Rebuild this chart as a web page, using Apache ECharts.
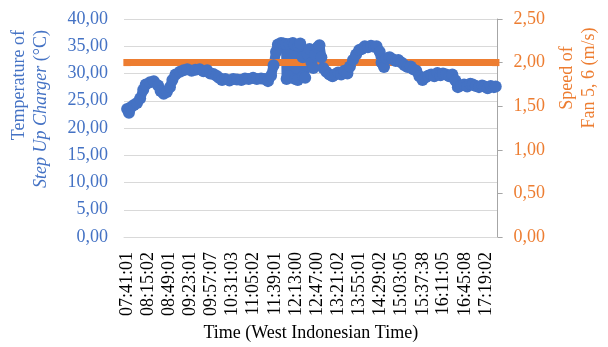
<!DOCTYPE html>
<html>
<head>
<meta charset="utf-8">
<script src="https://cdn.jsdelivr.net/npm/echarts@6/dist/echarts.min.js"></script>
<style>html,body{margin:0;padding:0;background:#fff;}#c{width:608px;height:347px;}</style>
</head>
<body>
<div id="c"></div>
<script>
// ---- data ----
const xTickLabels = ['07:41:01','08:15:02','08:49:01','09:23:01','09:57:07','10:31:03','11:05:02','11:39:01','12:13:00','12:47:00','13:21:02','13:55:01','14:29:02','15:03:05','15:37:38','16:11:05','16:45:08','17:19:02'];
const tempTimes = ['07:41','07:44','07:47','07:52','07:57','08:02','08:07','08:11','08:18','08:24','08:31','08:35','08:40','08:45','08:50','08:54','08:59','09:06','09:12','09:18','09:25','09:31','09:38','09:44','09:50','09:55','10:00','10:05','10:09','10:14','10:19','10:26','10:32','10:38','10:45','10:51','10:57','11:04','11:10','11:17','11:23','11:28','11:33','11:37','11:41','11:44','11:49','11:53','11:57','11:58','12:01','12:03','12:08','12:11','12:12','12:16','12:17','12:20','12:24','12:25','12:28','12:32','12:35','12:38','12:41','12:44','12:48','12:51','12:54','12:57','13:02','13:07','13:12','13:16','13:21','13:26','13:31','13:36','13:40','13:45','13:50','13:55','13:59','14:04','14:09','14:14','14:19','14:23','14:28','14:31','14:35','14:39','14:44','14:49','14:54','14:58','15:03','15:08','15:13','15:18','15:22','15:27','15:32','15:37','15:42','15:46','15:51','15:56','16:01','16:06','16:10','16:15','16:20','16:25','16:30','16:34','16:39','16:44','16:49','16:54','16:58','17:03','17:08','17:13','17:17','17:22','17:27','17:32','17:35'];
const tempValues = [23.5,22.8,23.8,24.2,24.6,25.4,27.0,28.0,28.4,28.6,27.8,26.8,26.3,26.6,27.5,28.8,29.8,30.3,30.6,30.8,30.5,30.7,30.8,30.4,30.6,30.0,29.9,29.6,29.2,28.8,29.0,28.7,29.0,28.9,28.8,29.1,29.0,29.2,29.0,29.1,29.0,28.6,29.6,31.5,34.0,35.3,35.6,35.5,35.4,29.0,29.5,35.4,35.6,35.3,29.0,28.8,35.0,35.5,33.0,29.5,29.2,33.5,34.5,32.0,31.0,33.5,34.8,35.2,33.0,31.0,30.3,29.8,29.5,29.8,30.2,29.8,30.5,30.0,31.3,32.5,33.5,34.3,34.5,35.0,34.8,35.1,34.9,35.0,34.0,32.0,31.2,32.8,33.0,32.6,32.3,32.5,32.0,31.5,31.2,31.3,30.8,30.5,29.5,28.8,29.3,29.6,29.8,29.5,30.1,29.7,30.0,29.8,29.5,29.8,28.7,27.5,27.8,28.0,27.6,28.1,28.0,27.7,27.5,27.8,27.6,27.3,27.7,27.5,27.6];
const fanTimes = ['07:41','17:35'];
const fanSpeed = [2.0, 2.0];

// ---- helpers ----
function toMin(s){ const p = s.split(':').map(Number); return p[0]*60 + p[1] + (p[2]||0)/60 - (7*60 + 41); }
const tickPos = xTickLabels.map(toMin);
const tempData = tempTimes.map((t,i)=>[toMin(t), tempValues[i]]);
const fanData = fanTimes.map((t,i)=>[toMin(t), fanSpeed[i]]);
const comma = v => v.toFixed(2).replace('.', ',');
const FONT = '"Liberation Serif", "Times New Roman", serif';
const BLUE = '#4472C4', ORANGE = '#ED7D31';

const chart = echarts.init(document.getElementById('c'));
chart.setOption({
  animation: false,
  grid: {left: 122, right: 108, top: 19, bottom: 110},
  xAxis: {
    type: 'value', min: -5, max: 597,
    name: 'Time (West Indonesian Time)', nameLocation: 'middle', nameGap: 84,
    nameTextStyle: {fontFamily: FONT, fontSize: 18, color: '#000'},
    axisLine: {show: true, lineStyle: {color: '#D9D9D9', width: 1}},
    axisTick: {show: false},
    splitLine: {show: false},
    axisLabel: {
      customValues: tickPos, rotate: 90, margin: 15,
      fontFamily: FONT, fontSize: 18, color: '#000',
      formatter: v => { let k = tickPos.findIndex(p => Math.abs(p - v) < 0.01); return k >= 0 ? xTickLabels[k] : ''; }
    }
  },
  yAxis: [{
    type: 'value', min: 0, max: 40, interval: 5, position: 'left',
    name: '{a|Temperature of}\n{b|Step Up Charger}{c| (°C)}',
    nameLocation: 'middle', nameGap: 72, nameRotate: 90,
    nameTextStyle: {
      padding: [0,0,0,38], lineHeight: 22,
      rich: {
        a: {fontFamily: FONT, fontSize: 18, color: BLUE, align: 'right', lineHeight: 22},
        b: {fontFamily: FONT, fontSize: 18, color: BLUE, fontStyle: 'italic', align: 'right', lineHeight: 22},
        c: {fontFamily: FONT, fontSize: 18, color: BLUE, align: 'right', lineHeight: 22}
      }
    },
    axisLine: {show: false}, axisTick: {show: false},
    splitLine: {show: true, lineStyle: {color: '#D9D9D9', width: 1}},
    axisLabel: {fontFamily: FONT, fontSize: 18, color: BLUE, margin: 16, formatter: comma}
  }, {
    type: 'value', min: 0, max: 2.5, interval: 0.5, position: 'right',
    name: 'Speed of\nFan 5, 6 (m/s)',
    nameLocation: 'middle', nameGap: 54, nameRotate: 90,
    nameTextStyle: {fontFamily: FONT, fontSize: 18, color: ORANGE, lineHeight: 22, padding: [0,0,0,100]},
    axisLine: {show: true, lineStyle: {color: '#A6A6A6', width: 1}},
    axisTick: {show: true, inside: false, length: 5, lineStyle: {color: '#A6A6A6'}},
    splitLine: {show: false},
    axisLabel: {fontFamily: FONT, fontSize: 18, color: ORANGE, margin: 16, formatter: comma}
  }],
  series: [{
    name: 'Temperature', type: 'line', yAxisIndex: 0, data: tempData,
    symbol: 'circle', symbolSize: 12, showAllSymbol: true,
    itemStyle: {color: BLUE, borderWidth: 0}, lineStyle: {color: BLUE, width: 10, join: 'round', cap: 'round'}
  }, {
    name: 'Fan speed', type: 'line', yAxisIndex: 1, data: fanData,
    symbol: 'rect', symbolSize: 7, showAllSymbol: true,
    itemStyle: {color: ORANGE}, lineStyle: {color: ORANGE, width: 7, cap: 'square'}
  }]
});
</script>
</body>
</html>
